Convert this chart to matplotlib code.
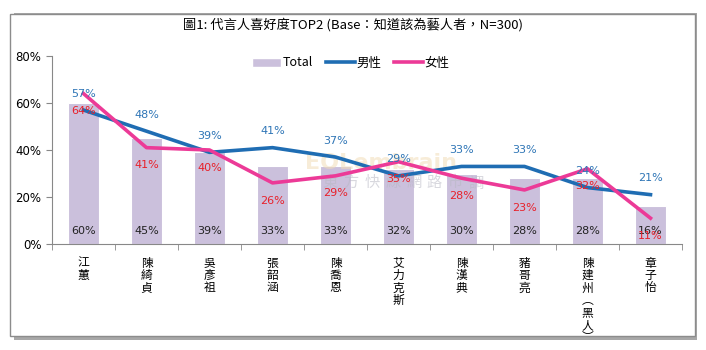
import matplotlib
matplotlib.use("Agg")
import matplotlib.pyplot as plt
from matplotlib.patches import Rectangle, Patch
from matplotlib.lines import Line2D
import numpy as np

plt.rcParams['font.family'] = ['Noto Sans CJK TC', 'DejaVu Sans']

# data
names = ['江蕙', '陳綺貞', '吳彥祖', '張韶涵', '陳喬恩', '艾力克斯', '陳漢典', '豬哥亮', '陳建州︵黑人︶', '章子怡']
total = [60, 45, 39, 33, 33, 32, 30, 28, 28, 16]
male = [57, 48, 39, 41, 37, 29, 33, 33, 24, 21]
female = [64, 41, 40, 26, 29, 35, 28, 23, 32, 11]
yticks = [0, 20, 40, 60, 80]

bar_color = '#CBC0DC'
blue = '#1F6DB3'
pink = '#EC3A97'

fig = plt.figure(figsize=(7.06, 3.5), dpi=100)

# frame with shadow
fig.patches.append(Rectangle((14 / 706, 1 - 340 / 350), 683 / 706, 327 / 350,
                             transform=fig.transFigure, facecolor='#A8A8A8',
                             edgecolor='none', zorder=-2))
fig.patches.append(Rectangle((10 / 706, 1 - 336 / 350), 685 / 706, 322 / 350,
                             transform=fig.transFigure, facecolor='white',
                             edgecolor='#8C8C8C', linewidth=1, zorder=-1))

ax = fig.add_axes([52 / 706, 1 - 244 / 350, 630 / 706, 188 / 350])
ax.set_zorder(2)
ax.set_facecolor('none')
x = np.arange(len(names))

ax.bar(x, total, width=0.5, color=bar_color, edgecolor='white', linewidth=0.8, zorder=2)
ax.plot(x, male, color=blue, linewidth=2.6, zorder=3)
ax.plot(x, female, color=pink, linewidth=2.6, zorder=4)

for i in range(len(names)):
    ax.text(x[i], 5.5, f'{total[i]}%', ha='center', va='center', fontsize=8,
            color='#222222', family=['DejaVu Sans'], zorder=5)
    ax.text(x[i], male[i] + 7, f'{male[i]}%', ha='center', va='center', fontsize=8,
            color='#2E75B6', family=['DejaVu Sans'], zorder=5)
    ax.text(x[i], female[i] - 7.5, f'{female[i]}%', ha='center', va='center', fontsize=8,
            color='#E8202A', family=['DejaVu Sans'], zorder=5)

# faint watermark
ax.text(4.72, 34.5, 'EOLembrain', fontsize=16, color='#F2DDB8', alpha=0.55,
        ha='center', va='center', fontweight='bold', zorder=2.5, family=['DejaVu Sans'])
wm = '東方快線網路市調'
for k, ch in enumerate(wm):
    ax.text(3.92 + k * 0.33, 26, ch, fontsize=11, color='#B8B8C4', alpha=0.55,
            ha='center', va='center', zorder=2.5)

ax.set_xlim(-0.5, len(names) - 0.5)
ax.set_ylim(0, 80)
ax.set_yticks(yticks)
ax.set_yticklabels([f'{v}%' for v in yticks], fontsize=8.5, family=['DejaVu Sans'])
ax.set_xticks(x)
ax.set_xticklabels(['\n'.join(n) for n in names], fontsize=8.5, linespacing=0.95, va='top')
ax.set_xticks(np.arange(-0.5, len(names)), minor=True)
ax.tick_params(axis='x', which='major', length=0, pad=9)
ax.tick_params(axis='x', which='minor', length=4, color='#888888', direction='out')
ax.tick_params(axis='y', length=4, color='#888888', direction='out')
for s in ['top', 'right']:
    ax.spines[s].set_visible(False)
for s in ['left', 'bottom']:
    ax.spines[s].set_color('#888888')

handles = [Patch(facecolor=bar_color, edgecolor='white'),
           Line2D([0], [0], color=blue, linewidth=2.6),
           Line2D([0], [0], color=pink, linewidth=2.6)]
fig.legend(handles, ['Total', '男性', '女性'], loc='center', ncol=3,
           bbox_to_anchor=(351 / 706, 1 - 63 / 350), frameon=False, fontsize=9,
           handlelength=2.3, columnspacing=1.0, handletextpad=0.15)

fig.text(353 / 706, 1 - 25 / 350, '圖1: 代言人喜好度TOP2 (Base：知道該為藝人者，N=300)',
         ha='center', va='center', fontsize=9.5)

fig.savefig('out.png', dpi=100)
